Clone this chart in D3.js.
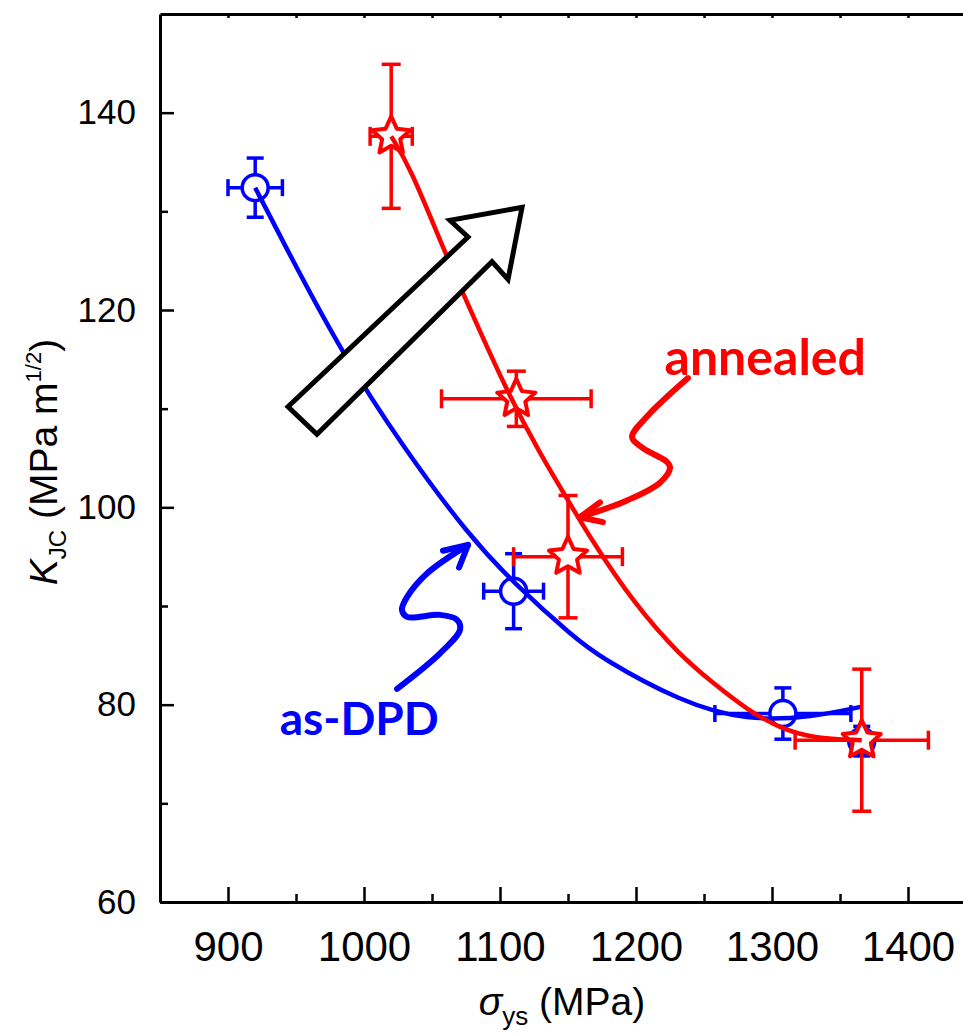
<!DOCTYPE html>
<html><head><meta charset="utf-8">
<script src="https://cdn.jsdelivr.net/npm/d3@7"></script>
<style>body{margin:0;background:#fff;} svg{display:block;}</style>
</head><body>
<svg id="chart" width="963" height="1036"></svg>
<script>
// ---- tick labels ----
const xTicks = [900, 1000, 1100, 1200, 1300, 1400];
const xMinorTicks = [950, 1050, 1150, 1250, 1350];
const topTicks = [900, 950, 1000, 1050, 1100, 1150, 1200, 1250, 1300, 1350, 1400];
const yTicks = [60, 80, 100, 120, 140];
const yMinorTicks = [70, 90, 110, 130];

// ---- series: as-DPD (blue circles) ----
const asdpdX = [920, 1110, 1308, 1366];
const asdpdY = [132.4, 91.5, 79.1, 76.3];
const asdpdXErr = [20, 22, 50, 8];
const asdpdYErr = [3.0, 3.8, 2.6, 1.5];
// fitted trend
const asdpdFitX = [920, 939.7, 983.8, 1028.7, 1077.9, 1109.6, 1153.7, 1173.5, 1232.4, 1281.6, 1330.1, 1366];
const asdpdFitY = [132.4, 127.1, 115.6, 106.1, 97.0, 92.4, 86.9, 84.8, 80.3, 78.35, 78.75, 79.8];

// ---- series: annealed (red stars) ----
const annealedX = [1020, 1112, 1150, 1366];
const annealedY = [137.6, 111.0, 95.0, 76.4];
const annealedXErr = [15.5, 55, 40, 49];
const annealedYErr = [7.3, 2.8, 6.2, 7.2];
const annealedFitX = [1020, 1033.8, 1058.1, 1072.8, 1105.1, 1130.9, 1144.1, 1166.2, 1199.3, 1232.4, 1256.6, 1281.6, 1305.9, 1330.1, 1366];
const annealedFitY = [137.6, 134.5, 126.3, 121.7, 111.7, 105.1, 102.1, 96.9, 90.1, 85.0, 82.2, 79.5, 77.6, 76.6, 76.4];

// ---- annotations (data units) ----
const bigArrowX = [944.1, 965.4, 1094.1, 1105.9, 1116.2, 1063.2, 1076.5];
const bigArrowY = [110.2, 107.4, 124.9, 123.1, 130.4, 129.1, 127.4];
const redSquigX = [1238.2, 1208.1, 1197.1, 1205.1, 1222.8, 1225.0, 1217.6, 1193.4, 1158.8];
const redSquigY = [113.1, 109.2, 107.1, 106.0, 104.6, 104.0, 102.5, 100.7, 99.0];
const redHeadX = [1173.5, 1158.8, 1175.7];
const redHeadY = [100.5, 99.0, 98.5];
const blueSquigX = [1024.3, 1055.9, 1070.6, 1068.4, 1055.9, 1031.6, 1027.9, 1031.6, 1046.3, 1076.5];
const blueSquigY = [81.6, 85.2, 87.6, 88.6, 89.1, 88.9, 89.6, 90.9, 93.3, 96.2];
const blueHeadX = [1058.1, 1076.5, 1069.9];
const blueHeadY = [95.6, 96.2, 93.9];
const labelAnnealed = {text: "annealed", x: 1221, y: 113.4};
const labelAsDPD = {text: "as-DPD", x: 938, y: 76.9};

const BLUE = "#0000ff", RED = "#ff0000";
const svg = d3.select("#chart");
const x = d3.scaleLinear().domain([850, 1450]).range([160, 976]);
const y = d3.scaleLinear().domain([60, 150]).range([902, 14]);
const FONT = "'Liberation Sans', Arial, sans-serif";
const fmt = d3.format("d");

// ---- axes ----
const gAx = svg.append("g").attr("font-family", FONT);
function styleAxis(g) {
  g.selectAll("path.domain").attr("stroke", "#000").attr("stroke-width", 3);
  g.selectAll(".tick line").attr("stroke", "#000").attr("stroke-width", 2.5);
}
gAx.append("g").attr("transform", `translate(0,${y(60)})`)
  .call(d3.axisBottom(x).tickValues(xTicks).tickFormat(fmt).tickSizeInner(-15).tickSizeOuter(0).tickPadding(29))
  .call(styleAxis)
  .call(g => g.selectAll("text").attr("font-size", 42).attr("fill", "#000").attr("font-family", FONT));
gAx.append("g").attr("transform", `translate(0,${y(60)})`)
  .call(d3.axisBottom(x).tickValues(xMinorTicks).tickSizeInner(-8).tickSizeOuter(0).tickFormat(""))
  .call(styleAxis).call(g => g.select("path.domain").remove());
gAx.append("g").attr("transform", `translate(0,${y(150)})`)
  .call(d3.axisTop(x).tickValues(topTicks).tickSizeInner(-4).tickSizeOuter(0).tickFormat(""))
  .call(styleAxis);
gAx.append("g").attr("transform", `translate(${x(850)},0)`)
  .call(d3.axisLeft(y).tickValues(yTicks).tickFormat(fmt).tickSizeInner(-14).tickSizeOuter(0).tickPadding(24))
  .call(styleAxis)
  .call(g => g.selectAll("text").attr("font-size", 35).attr("fill", "#000").attr("font-family", FONT));
gAx.append("g").attr("transform", `translate(${x(850)},0)`)
  .call(d3.axisLeft(y).tickValues(yMinorTicks).tickSizeInner(-8).tickSizeOuter(0).tickFormat(""))
  .call(styleAxis).call(g => g.select("path.domain").remove());

// axis titles
const xt = svg.append("text").attr("x", 562).attr("y", 1015).attr("text-anchor", "middle")
  .attr("font-family", FONT).attr("font-size", 39).attr("fill", "#000");
xt.append("tspan").attr("font-style", "italic").text("σ");
xt.append("tspan").attr("font-size", 26).attr("dy", 10).text("ys");
xt.append("tspan").attr("dy", -10).text(" (MPa)");

const yt = svg.append("text").attr("transform", "translate(57,462) rotate(-90)").attr("text-anchor", "middle")
  .attr("font-family", FONT).attr("font-size", 39).attr("fill", "#000");
yt.append("tspan").attr("font-style", "italic").text("K");
yt.append("tspan").attr("font-size", 24).attr("dy", 9).text("JC");
yt.append("tspan").attr("dy", -9).text(" (MPa m");
yt.append("tspan").attr("font-size", 22).attr("dy", -16).text("1/2");
yt.append("tspan").attr("dy", 16).text(")");

// ---- helpers ----
const zip = (xs, ys) => xs.map((v, i) => [v, ys[i]]);
const line = d3.line().x(d => x(d[0])).y(d => y(d[1]));
const smooth = d3.line().x(d => x(d[0])).y(d => y(d[1])).curve(d3.curveCatmullRom.alpha(0.5));
const fitLine = d3.line().x(d => x(d[0])).y(d => y(d[1])).curve(d3.curveBasis);

function errorBars(g, xs, ys, xe, ye, color, cap) {
  xs.forEach((xv, i) => {
    const yv = ys[i];
    const segs = [
      [[xv, yv - ye[i]], [xv, yv + ye[i]]],
      [[xv - xe[i], yv], [xv + xe[i], yv]]
    ];
    segs.forEach(s => g.append("path").attr("d", line(s)).attr("stroke", color).attr("stroke-width", 3.5).attr("fill", "none"));
    [yv - ye[i], yv + ye[i]].forEach(yy =>
      g.append("line").attr("x1", x(xv) - cap / 2).attr("x2", x(xv) + cap / 2)
        .attr("y1", y(yy)).attr("y2", y(yy)).attr("stroke", color).attr("stroke-width", 3.5));
    [xv - xe[i], xv + xe[i]].forEach(xx =>
      g.append("line").attr("y1", y(yv) - cap / 2).attr("y2", y(yv) + cap / 2)
        .attr("x1", x(xx)).attr("x2", x(xx)).attr("stroke", color).attr("stroke-width", 3.5));
  });
}
function starPath(ro, ri) {
  const pts = d3.range(10).map(k => {
    const a = -Math.PI / 2 + k * Math.PI / 5, r = k % 2 ? ri : ro;
    return [r * Math.cos(a), r * Math.sin(a)];
  });
  return "M" + pts.map(p => p.join(",")).join("L") + "Z";
}

// ---- as-DPD ----
const gB = svg.append("g");
errorBars(gB, asdpdX, asdpdY, asdpdXErr, asdpdYErr, BLUE, 17);
gB.selectAll("circle").data(zip(asdpdX, asdpdY)).join("circle")
  .attr("cx", d => x(d[0])).attr("cy", d => y(d[1])).attr("r", 13)
  .attr("fill", "#fff").attr("stroke", BLUE).attr("stroke-width", 3.5);
gB.append("path").attr("d", fitLine(zip(asdpdFitX, asdpdFitY)))
  .attr("fill", "none").attr("stroke", BLUE).attr("stroke-width", 4.5);

// ---- annealed ----
const gR = svg.append("g");
errorBars(gR, annealedX, annealedY, annealedXErr, annealedYErr, RED, 19);
gR.selectAll("path.star").data(zip(annealedX, annealedY)).join("path").attr("class", "star")
  .attr("transform", d => `translate(${x(d[0])},${y(d[1])})`)
  .attr("d", starPath(20, 9.5)).attr("fill", "#fff").attr("stroke", RED).attr("stroke-width", 4)
  .attr("stroke-linejoin", "round");
gR.append("path").attr("d", fitLine(zip(annealedFitX, annealedFitY)))
  .attr("fill", "none").attr("stroke", RED).attr("stroke-width", 4.5);

// ---- annotations ----
svg.append("path").attr("d", line(zip(bigArrowX, bigArrowY)) + "Z")
  .attr("fill", "#fff").attr("stroke", "#000").attr("stroke-width", 5).attr("stroke-linejoin", "miter");

svg.append("path").attr("d", smooth(zip(redSquigX, redSquigY)))
  .attr("fill", "none").attr("stroke", RED).attr("stroke-width", 6).attr("stroke-linecap", "round");
svg.append("path").attr("d", line(zip(redHeadX, redHeadY)))
  .attr("fill", "none").attr("stroke", RED).attr("stroke-width", 6).attr("stroke-linecap", "round").attr("stroke-linejoin", "round");
svg.append("path").attr("d", smooth(zip(blueSquigX, blueSquigY)))
  .attr("fill", "none").attr("stroke", BLUE).attr("stroke-width", 6).attr("stroke-linecap", "round");
svg.append("path").attr("d", line(zip(blueHeadX, blueHeadY)))
  .attr("fill", "none").attr("stroke", BLUE).attr("stroke-width", 6).attr("stroke-linecap", "round").attr("stroke-linejoin", "round");

const LFONT = "Lato, 'Open Sans', sans-serif";
svg.append("text").attr("x", x(labelAnnealed.x)).attr("y", y(labelAnnealed.y))
  .attr("font-family", LFONT).attr("font-weight", "bold").attr("font-size", 50).attr("fill", RED)
  .text(labelAnnealed.text);
svg.append("text").attr("x", x(labelAsDPD.x)).attr("y", y(labelAsDPD.y))
  .attr("font-family", LFONT).attr("font-weight", "bold").attr("font-size", 46).attr("fill", BLUE)
  .text(labelAsDPD.text);
</script>
</body></html>
